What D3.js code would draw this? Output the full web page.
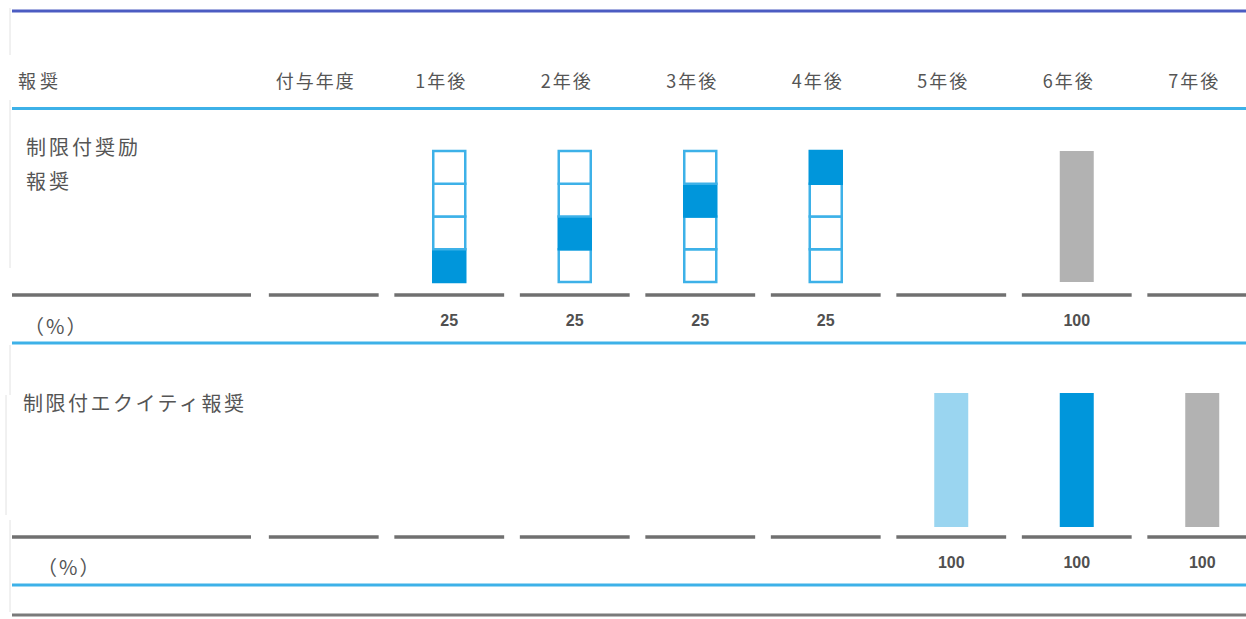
<!DOCTYPE html>
<html lang="ja">
<head>
<meta charset="UTF-8">
<title>報奨の権利確定スケジュール</title>
<script src="https://d3js.org/d3.v7.min.js"></script>
<style>
  body { margin: 0; background: #fff; }
  svg text { font-family: "Noto Sans CJK JP", "Noto Sans", sans-serif; fill: #555; }
</style>
</head>
<body>
<svg id="chart" width="1246" height="619"></svg>
<script>
// columns of the schedule table
const columns = ['付与年度', '1年後', '2年後', '3年後', '4年後', '5年後', '6年後', '7年後'];

// 制限付奨励報奨: four 25% tranches, one per year, then the full award at year 6
const rsuYears = ['1年後', '2年後', '3年後', '4年後'];
const rsuPct = [25, 25, 25, 25];
const rsuHoldYear = '6年後';
const rsuHoldPct = 100;

// 制限付エクイティ報奨
const eqYears = ['5年後', '6年後', '7年後'];
const eqPct = [100, 100, 100];
const eqColors = ['#9ad5f0', '#0096db', '#b2b2b2'];

const blueLight = '#3db1e8', blueDark = '#0096db', grey = '#b2b2b2', rule = '#707070';

const svg = d3.select('#chart');
const W = 1246, left = 12;

const x = d3.scaleBand()
  .domain(columns)
  .range([261, 1265])
  .paddingInner(0.125)
  .paddingOuter(0.0625);
const cx = d => x(d) + x.bandwidth() / 2;
const barW = 34;

// faint scan borders on the left edge
[[10, 8, 55], [10, 100, 268], [10, 345, 395], [6, 395, 515], [10, 520, 612]].forEach(([lx, y1, y2]) => {
  svg.append('line').attr('x1', lx).attr('x2', lx).attr('y1', y1).attr('y2', y2)
    .attr('stroke', '#e2e2e2').attr('stroke-width', 1);
});

function hline(y, color, w) {
  svg.append('line').attr('x1', left).attr('x2', W).attr('y1', y).attr('y2', y)
    .attr('stroke', color).attr('stroke-width', w);
}
hline(11, '#4c5cc2', 3);
hline(108.5, blueLight, 3);
hline(343, blueLight, 3);
hline(585, blueLight, 3);
hline(615, '#7a7a7a', 3);

// header row
svg.append('text').attr('x', 18).attr('y', 80).attr('dominant-baseline', 'central')
  .style('font-size', '18px').style('letter-spacing', '4px').text('報奨');
svg.selectAll('.colhead').data(columns).enter().append('text')
  .attr('class', 'colhead')
  .attr('x', d => cx(d) - 8)
  .attr('y', 80)
  .attr('text-anchor', 'middle')
  .attr('dominant-baseline', 'central')
  .style('font-size', '18px')
  .style('letter-spacing', '2px')
  .text(d => d);

// grey baseline segments under each column
function segments(y) {
  svg.append('line').attr('x1', left).attr('x2', 251).attr('y1', y).attr('y2', y)
    .attr('stroke', rule).attr('stroke-width', 3.5);
  svg.selectAll(null).data(columns).enter().append('line')
    .attr('x1', d => x(d)).attr('x2', d => x(d) + x.bandwidth())
    .attr('y1', y).attr('y2', y)
    .attr('stroke', rule).attr('stroke-width', 3.5);
}
segments(295);
segments(537);

// row labels
const lab1 = svg.append('text').attr('x', 26).style('font-size', '20px').style('letter-spacing', '3px');
lab1.append('tspan').attr('x', 26).attr('y', 155).text('制限付奨励');
lab1.append('tspan').attr('x', 26).attr('y', 189).text('報奨');
svg.append('text').attr('x', 23).attr('y', 411).style('font-size', '20px').style('letter-spacing', '2.5px')
  .text('制限付エクイティ報奨');

svg.append('text').attr('x', 24).attr('y', 325).attr('dominant-baseline', 'central')
  .style('font-size', '20px').style('letter-spacing', '2px').text('（%）');
svg.append('text').attr('x', 37).attr('y', 566).attr('dominant-baseline', 'central')
  .style('font-size', '20px').style('letter-spacing', '2px').text('（%）');

// row 1: stacked tranche boxes
const y1 = d3.scaleLinear().domain([0, 100]).range([282, 151]);
const cells = d3.range(4).map(k => ({ lo: d3.sum(rsuPct.slice(0, k)), hi: d3.sum(rsuPct.slice(0, k + 1)) }));

rsuYears.forEach((yr, i) => {
  const g = svg.append('g');
  g.selectAll('rect').data(cells).enter().append('rect')
    .attr('x', cx(yr) - barW / 2 + 1)
    .attr('width', barW - 2)
    .attr('y', c => y1(c.hi))
    .attr('height', c => y1(c.lo) - y1(c.hi))
    .attr('fill', (c, k) => k === i ? blueDark : '#fff')
    .attr('stroke', (c, k) => k === i ? blueDark : blueLight)
    .attr('stroke-width', 2.5);
});
svg.append('rect')
  .attr('x', cx(rsuHoldYear) - barW / 2).attr('width', barW)
  .attr('y', y1(rsuHoldPct)).attr('height', y1(0) - y1(rsuHoldPct))
  .attr('fill', grey);

const valStyle = sel => sel.attr('text-anchor', 'middle').attr('dominant-baseline', 'central')
  .style('font-family', 'Arial, "Liberation Sans", sans-serif')
  .style('font-size', '16px').style('font-weight', 'bold').style('fill', '#505050');

svg.selectAll('.v1').data(rsuYears).enter().append('text')
  .attr('x', d => cx(d)).attr('y', 320).text((d, i) => rsuPct[i]).call(valStyle);
svg.append('text').attr('x', cx(rsuHoldYear)).attr('y', 320).text(rsuHoldPct).call(valStyle);

// row 2: full bars
const y2 = d3.scaleLinear().domain([0, 100]).range([527, 393]);
svg.selectAll('.b2').data(eqYears).enter().append('rect')
  .attr('x', d => cx(d) - barW / 2).attr('width', barW)
  .attr('y', (d, i) => y2(eqPct[i]))
  .attr('height', (d, i) => y2(0) - y2(eqPct[i]))
  .attr('fill', (d, i) => eqColors[i]);
svg.selectAll('.v2').data(eqYears).enter().append('text')
  .attr('x', d => cx(d)).attr('y', 562).text((d, i) => eqPct[i]).call(valStyle);
</script>
</body>
</html>
